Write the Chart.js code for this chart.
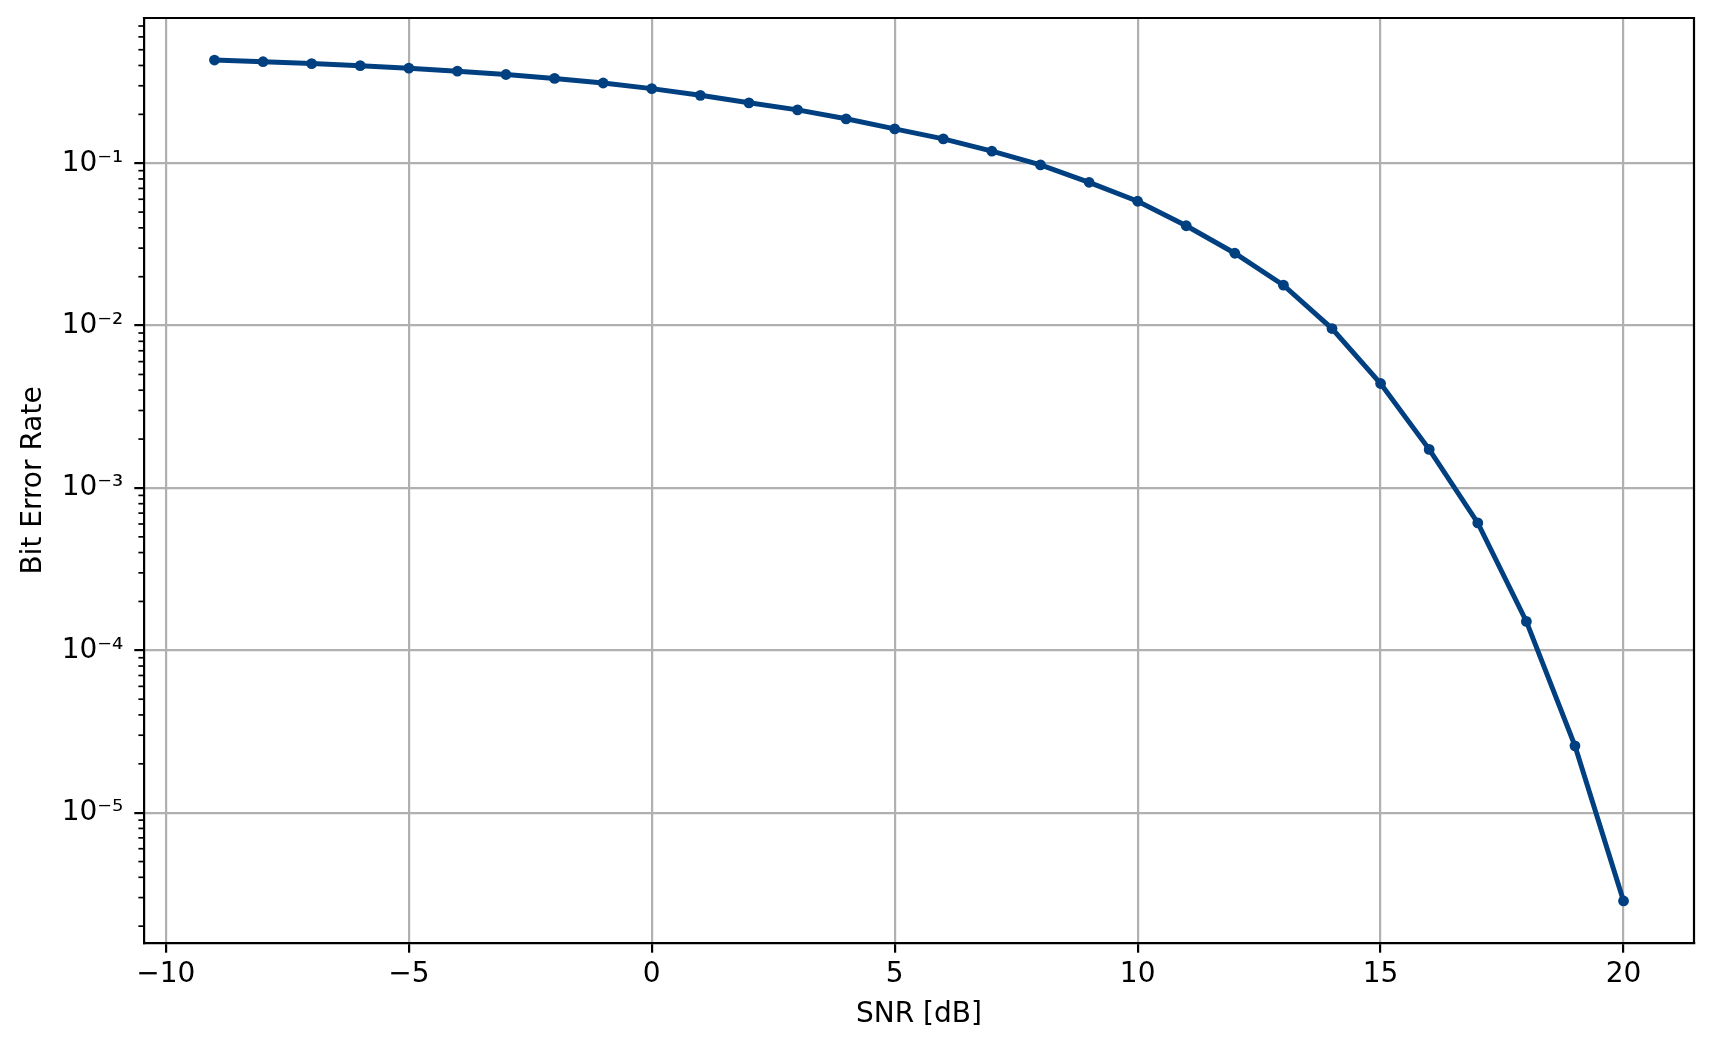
<!DOCTYPE html>
<html>
<head>
<meta charset="utf-8">
<script src="https://cdn.jsdelivr.net/npm/chart.js@4"></script>
<style>
html, body { margin: 0; padding: 0; background: #ffffff; }
#wrap { width: 1713px; height: 1050px; }
</style>
</head>
<body>
<div id="wrap"><canvas id="c" width="1713" height="1050" style="width:1713px;height:1050px"></canvas></div>
<script>
// ---- data ----
const snrDb = [-9, -8, -7, -6, -5, -4, -3, -2, -1, 0, 1, 2, 3, 4, 5, 6, 7, 8, 9, 10, 11, 12, 13, 14, 15, 16, 17, 18, 19, 20];
const bitErrorRate = [0.432, 0.422, 0.411, 0.399, 0.385, 0.369, 0.352, 0.333, 0.312, 0.288, 0.262, 0.2355,
  0.2132, 0.1877, 0.1627, 0.1413, 0.1186, 0.0976, 0.0763, 0.0583, 0.0412, 0.0279, 0.01774, 0.00959,
  0.00440, 0.001728, 0.000609, 0.0001507, 2.58e-5, 2.86e-6];
const xTicks = [-10, -5, 0, 5, 10, 15, 20];
const yMajorTicks = [1e-5, 1e-4, 1e-3, 1e-2, 1e-1];
const yTickLabels = ['10\u207B\u2075', '10\u207B\u2074', '10\u207B\u00B3', '10\u207B\u00B2', '10\u207B\u00B9'];
const xTitle = 'SNR [dB]';
const yTitle = 'Bit Error Rate';

// ---- axis limits (matplotlib-like 5% margins) ----
const xLo = Math.min(...snrDb), xHi = Math.max(...snrDb);
const xMin = xLo - 0.05 * (xHi - xLo), xMax = xHi + 0.05 * (xHi - xLo);
const lLo = Math.log10(Math.min(...bitErrorRate)), lHi = Math.log10(Math.max(...bitErrorRate));
const yMin = Math.pow(10, lLo - 0.05 * (lHi - lLo)), yMax = Math.pow(10, lHi + 0.05 * (lHi - lLo));

const LINE_COLOR = 'rgb(0,64,128)';
const GRID = '#b0b0b0';
const LW = 2.2;
const FONT = 'DejaVu Sans';
const FS = 28;

Chart.defaults.font.family = FONT;
Chart.defaults.font.size = FS;
Chart.defaults.color = '#000000';

function buildYTicks() {
  const out = [];
  const e0 = Math.floor(Math.log10(yMin)), e1 = Math.ceil(Math.log10(yMax));
  for (let e = e0; e <= e1; e++) {
    for (let m = 1; m <= 9; m++) {
      const v = m * Math.pow(10, e);
      if (v < yMin || v > yMax) continue;
      const mi = yMajorTicks.findIndex(t => Math.abs(t - v) / t < 1e-9);
      out.push({ value: v, isMajor: mi >= 0, labelText: mi >= 0 ? yTickLabels[mi] : null });
    }
  }
  return out;
}

const framePlugin = {
  id: 'frame',
  afterDraw(chart) {
    const { ctx, chartArea: a } = chart;
    const ys = chart.scales.y;
    ctx.save();
    ctx.strokeStyle = '#000000';
    // minor ticks on the log axis
    ctx.lineWidth = 1.7;
    buildYTicks().forEach(t => {
      if (t.isMajor) return;
      const py = ys.getPixelForValue(t.value);
      ctx.beginPath();
      ctx.moveTo(a.left, py);
      ctx.lineTo(a.left - 5.6, py);
      ctx.stroke();
    });
    // top and right spines
    ctx.lineWidth = LW;
    ctx.lineCap = 'square';
    ctx.beginPath();
    ctx.moveTo(a.left, a.top);
    ctx.lineTo(a.right, a.top);
    ctx.lineTo(a.right, a.bottom);
    ctx.stroke();
    ctx.restore();
  }
};

new Chart(document.getElementById('c'), {
  type: 'line',
  data: {
    datasets: [{
      data: snrDb.map((x, i) => ({ x: x, y: bitErrorRate[i] })),
      borderColor: LINE_COLOR,
      backgroundColor: LINE_COLOR,
      borderWidth: 5,
      pointRadius: 5.4,
      pointHoverRadius: 5.4,
      pointBackgroundColor: LINE_COLOR,
      pointBorderWidth: 0,
      tension: 0,
      fill: false
    }]
  },
  options: {
    responsive: false,
    devicePixelRatio: 1,
    animation: false,
    events: [],
    layout: { padding: { left: 0, top: 18, right: 19, bottom: 0 } },
    plugins: { legend: { display: false }, tooltip: { enabled: false } },
    scales: {
      x: {
        type: 'linear',
        min: xMin,
        max: xMax,
        afterBuildTicks: (s) => { s.ticks = xTicks.map(v => ({ value: v })); },
        afterFit: (s) => { s.height = 107; },
        ticks: {
          autoSkip: false,
          maxRotation: 0,
          padding: 5.5,
          color: '#000000',
          font: { family: FONT, size: FS },
          callback: (v) => (v < 0 ? '\u2212' + Math.abs(v) : String(v))
        },
        grid: { color: GRID, lineWidth: LW, tickColor: '#000000', tickLength: 9.7, tickWidth: LW },
        border: { display: true, color: '#000000', width: LW },
        title: { display: true, text: xTitle, color: '#000000', font: { family: FONT, size: FS }, padding: { top: 0, bottom: 18 } }
      },
      y: {
        type: 'logarithmic',
        min: yMin,
        max: yMax,
        afterBuildTicks: (s) => { s.ticks = buildYTicks(); },
        afterFit: (s) => { s.width = 144; s.paddingTop = 0; s.paddingBottom = 0; },
        ticks: {
          autoSkip: false,
          padding: 11,
          color: '#000000',
          font: { family: FONT, size: FS },
          callback: (v, i, ticks) => (ticks[i] && ticks[i].isMajor ? ticks[i].labelText : null)
        },
        grid: {
          color: (c) => (c.tick && c.tick.isMajor ? GRID : 'rgba(0,0,0,0)'),
          tickColor: (c) => (c.tick && c.tick.isMajor ? '#000000' : 'rgba(0,0,0,0)'),
          lineWidth: LW,
          tickWidth: LW,
          tickLength: 9.7
        },
        border: { display: true, color: '#000000', width: LW },
        title: { display: true, text: yTitle, color: '#000000', font: { family: FONT, size: FS }, padding: { top: 17, bottom: 0 } }
      }
    }
  },
  plugins: [framePlugin]
});
</script>
</body>
</html>
